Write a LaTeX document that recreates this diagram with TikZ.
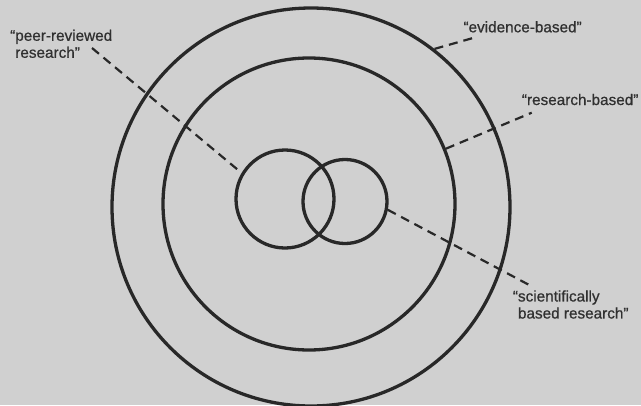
\documentclass[tikz,border=0pt]{standalone}
\usepackage{fontspec}
\setmainfont{Liberation Sans}
\newfontfamily\lblfont[FakeBold=0.7]{Liberation Sans}
\definecolor{bg}{RGB}{208,208,208}
\definecolor{ink}{RGB}{40,40,40}
\definecolor{txt}{RGB}{48,48,48}
\begin{document}
\begin{tikzpicture}[x=1pt,y=-1pt,
  ring/.style={circle,draw=ink,line width=3.3pt,inner sep=0pt},
  leader/.style={draw=ink,line width=2.2pt,dash pattern=on 9pt off 6pt},
  lbl/.style={text=txt,font=\lblfont\fontsize{15.3}{17}\selectfont,inner sep=0pt,align=left}]
\fill[bg] (0,0) rectangle (641,405);
\useasboundingbox (0,0) rectangle (641,405);
% circles
\node[ring,minimum size=398pt] (outer) at (311,207) {};
\node[ring,minimum size=292pt] (inner) at (309,204) {};
\node[ring,minimum size=98pt] (sl) at (285,199) {};
\node[ring,minimum size=84pt] (sr) at (345,201.5) {};
% labels
\node[lbl,anchor=north west] (peer) at (10,29.5) {“peer-reviewed\\\hphantom{“}research”};
\node[lbl,anchor=base west] (evid) at (463.3,32.3) {“evidence-based”};
\node[lbl,anchor=base west] (resb) at (521.7,105) {“research-based”};
\node[lbl,anchor=north west] (sci) at (512.7,290.2) {“scientifically\\\hphantom{“}based research”};
% leader ends
\coordinate (peerend) at (92,48);
\coordinate (evidend) at (473,38);
\coordinate (resbend) at (531.7,112.7);
\coordinate (sciend) at (533,287);
% leaders
\draw[leader] (peerend) -- (sl.149);
\draw[leader] (outer.52) -- (evidend);
\draw[leader] (inner.22.5) -- (resbend);
\draw[leader] (sr.-11.5) -- (sciend);
\end{tikzpicture}
\end{document}
